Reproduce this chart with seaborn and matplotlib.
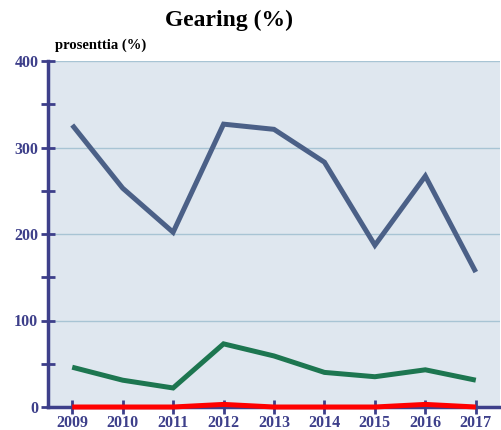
import matplotlib
matplotlib.use("Agg")
import matplotlib.pyplot as plt
import seaborn as sns
import pandas as pd
from matplotlib.ticker import MultipleLocator

years = ["2009", "2010", "2011", "2012", "2013", "2014", "2015", "2016", "2017"]
blue_vals = [326, 253, 202, 327, 321, 283, 187, 267, 156]
green_vals = [46, 31, 22, 73, 59, 40, 35, 43, 31]
red_vals = [0, 0, 0, 3, 0, 0, 0, 3, 0]
series_names = ["A", "B", "C"]
colors = ["#4b6087", "#1d7650", "#ff0000"]

sns.set_style("white")
plt.rcParams['font.family'] = ['Liberation Serif', 'DejaVu Serif']

df = pd.DataFrame({
    "year": years * 3,
    "value": blue_vals + green_vals + red_vals,
    "series": [series_names[0]] * 9 + [series_names[1]] * 9 + [series_names[2]] * 9,
})

fig = plt.figure(figsize=(5.02, 4.30), dpi=100)
ax = fig.add_axes([48/502, 23/430, 452/502, 346/430])
ax.set_facecolor("#dfe7ef")

sns.lineplot(data=df, x="year", y="value", hue="series", palette=colors,
             linewidth=3.6, ax=ax, legend=False, sort=False)
for ln in ax.lines:
    ln.set_solid_joinstyle("miter")
    ln.set_solid_capstyle("butt")
    ln.set_clip_on(False)
    ln.set_zorder(5)

ax.set_xlim(-0.48, 8.48)
ax.set_ylim(0, 400)
ax.yaxis.set_major_locator(MultipleLocator(100))
ax.yaxis.set_minor_locator(MultipleLocator(50))
ax.grid(axis="y", which="major", color="#a8c4d4", linewidth=1)
ax.grid(axis="x", visible=False)
ax.set_axisbelow(True)

navy = "#3d3f8a"
for s in ["top", "right"]:
    ax.spines[s].set_visible(False)
for s in ["left", "bottom"]:
    ax.spines[s].set_color(navy)
    ax.spines[s].set_linewidth(2.5)

ax.tick_params(axis="both", which="both", direction="inout", color=navy, width=2,
               labelcolor=navy, labelsize=11.5, bottom=True, left=True)
ax.tick_params(axis="y", which="major", length=10, pad=2)
ax.tick_params(axis="y", which="minor", length=10)
ax.tick_params(axis="x", which="major", length=10, pad=1)
for lab in ax.get_xticklabels() + ax.get_yticklabels():
    lab.set_fontweight("bold")
ax.set_xlabel("")
ax.set_ylabel("")

fig.text(229/502, 1 - 20/430, "Gearing (%)", ha="center", va="center",
         fontsize=17, fontweight="bold", color="black")
fig.text(55/502, 1 - 45/430, "prosenttia (%)", ha="left", va="center",
         fontsize=10.5, fontweight="bold", color="black")

fig.savefig("out.png", dpi=100)
